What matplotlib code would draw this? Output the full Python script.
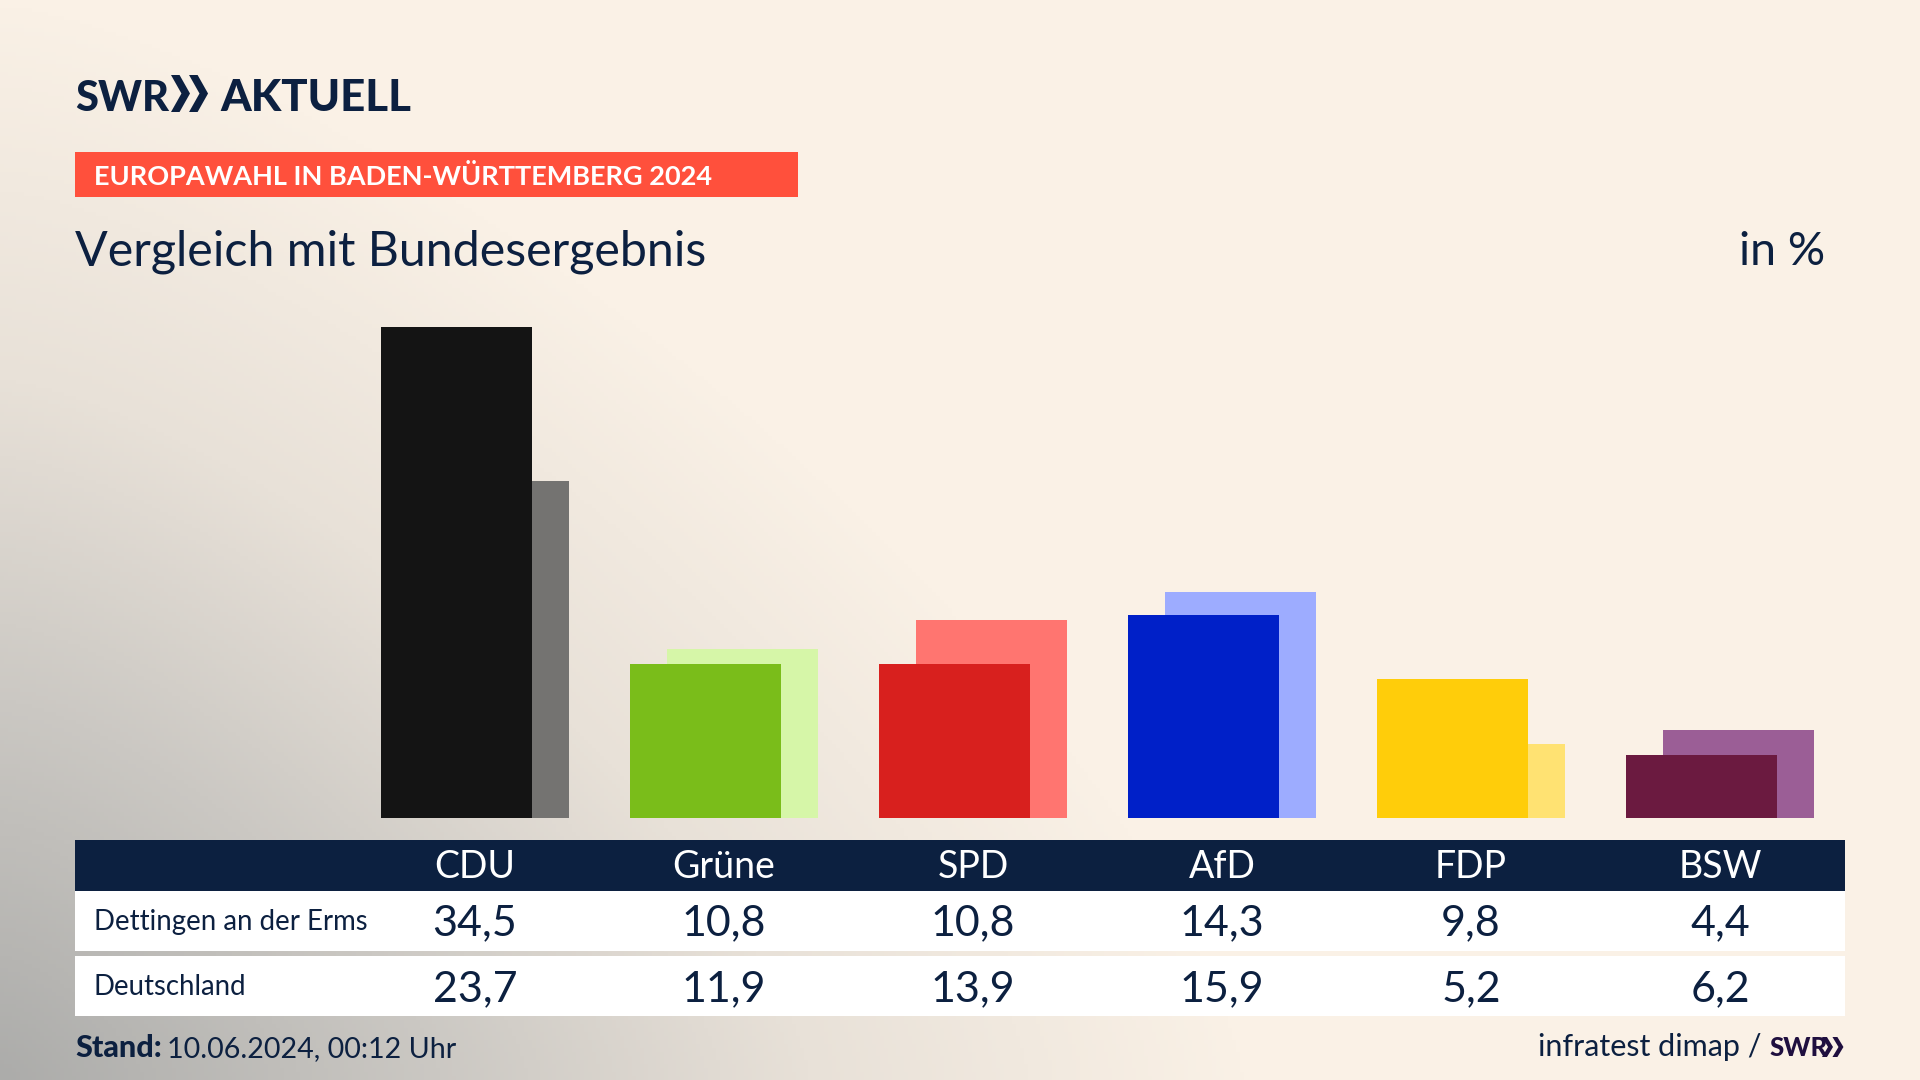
import numpy as np
import matplotlib
matplotlib.use('Agg')
import matplotlib.pyplot as plt
from matplotlib.colors import LinearSegmentedColormap
from matplotlib.patches import Polygon, Rectangle

# Data
parties = ['CDU', 'Grüne', 'SPD', 'AfD', 'FDP', 'BSW']
dettingen = [34.5, 10.8, 10.8, 14.3, 9.8, 4.4]
deutschland = [23.7, 11.9, 13.9, 15.9, 5.2, 6.2]
front_colors = ['#141414', '#7ABD1A', '#D8201E', '#0020C8', '#FFCD0A', '#6B1A40']
back_colors = ['#747371', '#D6F6A8', '#FF7570', '#9DACFF', '#FFE272', '#9B5E96']
row_labels = ['Dettingen an der Erms', 'Deutschland']

NAVY = '#0C2040'
FONT = 'Lato'
W, H = 1920, 1080

fig = plt.figure(figsize=(19.2, 10.8), dpi=100)

# Background: grey glow from the bottom left corner into cream
bg = fig.add_axes([0, 0, 1, 1], zorder=0)
xx, yy = np.meshgrid(np.linspace(0, 1, 480), np.linspace(0, 1, 270))
t = np.clip(((xx / 0.65) ** 1.4 + (yy / 1.0) ** 1.4) ** (1 / 1.4), 0, 1)
cmap = LinearSegmentedColormap.from_list('bg', [(0, '#ACACAA'), (0.35, '#CBC8C3'), (0.65, '#E8E1D8'), (1, '#FAF1E6')])
bg.imshow(t, cmap=cmap, vmin=0, vmax=1, origin='lower', aspect='auto', extent=[0, 1, 0, 1])
bg.axis('off')

# Bars, 249 px per party and about 14.2 px per percentage point
ax = fig.add_axes([75 / W, (H - 818) / H, 1770 / W, 518 / H], zorder=1)
x = np.arange(len(parties))
ax.bar(x + 0.0743, deutschland, width=0.606, color=back_colors)
ax.bar(x - 0.0743, dettingen, width=0.606, color=front_colors)
ax.set_xlim((75 - 475) / 249, (1845 - 475) / 249)
ax.set_ylim(0, 518 / 14.23)
ax.axis('off')

# Everything else is placed in pixels
ov = fig.add_axes([0, 0, 1, 1], zorder=2)
ov.set_xlim(0, W)
ov.set_ylim(H, 0)
ov.axis('off')
ov.patch.set_alpha(0)


def chevrons(left, top, bottom, width, color):
    mid = (top + bottom) / 2
    for start in [left, left + width * 0.95]:
        pts = [(start, top), (start + width * 0.45, top), (start + width, mid),
               (start + width * 0.45, bottom), (start, bottom), (start + width * 0.55, mid)]
        ov.add_patch(Polygon(pts, closed=True, color=color, lw=0))


# Logo
ov.text(75, 111, 'SWR', fontsize=30, fontweight='black', family=FONT, color=NAVY)
chevrons(171, 75, 112, 19, NAVY)
ov.text(220, 111, 'AKTUELL', fontsize=31.5, fontweight='black', family=FONT, color=NAVY)

# Header
ov.add_patch(Rectangle((75, 152), 723, 45, color='#FF503C', lw=0))
ov.text(94, 185, 'EUROPAWAHL IN BADEN-WÜRTTEMBERG 2024', fontsize=19.5, fontweight='bold', family=FONT, color='white')
ov.text(75, 265, 'Vergleich mit Bundesergebnis', fontsize=34.8, family=FONT, color=NAVY)
ov.text(1825, 265, 'in %', fontsize=33.5, family=FONT, color=NAVY, ha='right')

# Table
ov.add_patch(Rectangle((75, 840), 1770, 51, color=NAVY, lw=0))
ov.add_patch(Rectangle((75, 891), 1770, 60, color='white', lw=0))
ov.add_patch(Rectangle((75, 956), 1770, 60, color='white', lw=0))
ov.text(94, 930, row_labels[0], fontsize=19.9, family=FONT, color=NAVY)
ov.text(94, 995, row_labels[1], fontsize=19.9, family=FONT, color=NAVY)
for i, party in enumerate(parties):
    cx = 475 + 249 * i
    ov.text(cx, 878, party, fontsize=27, family=FONT, color='white', ha='center')
    ov.text(cx, 935, f'{dettingen[i]:.1f}'.replace('.', ','), fontsize=31, family=FONT, color=NAVY, ha='center')
    ov.text(cx, 1001, f'{deutschland[i]:.1f}'.replace('.', ','), fontsize=31, family=FONT, color=NAVY, ha='center')

# Footer
ov.text(75, 1057, 'Stand:', fontsize=22, fontweight='black', family=FONT, color=NAVY)
ov.text(167, 1057, '10.06.2024, 00:12 Uhr', fontsize=20.6, family=FONT, color=NAVY)
ov.text(1762, 1056, 'infratest dimap /', fontsize=22, family=FONT, color=NAVY, ha='right')
ov.text(1769, 1056, 'SWR', fontsize=18.5, fontweight='black', family=FONT, color='#1F0F3F')
chevrons(1822, 1037, 1057, 11, '#1F0F3F')

fig.savefig('out.png', dpi=100)
